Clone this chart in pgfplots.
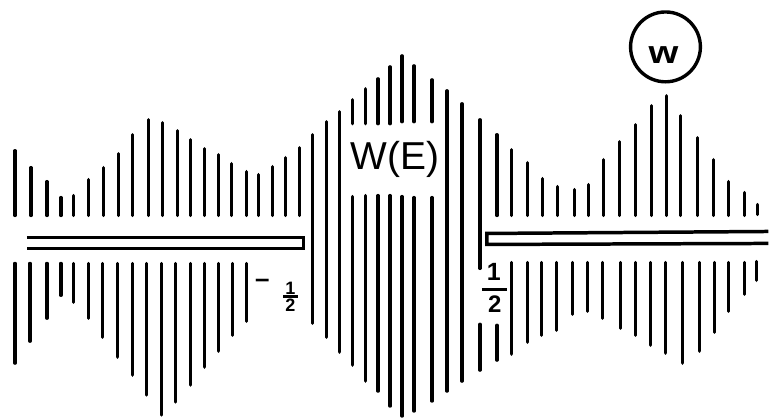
\documentclass[border=0pt]{standalone}
\usepackage{fontspec}
\setmainfont{Liberation Sans}
\usepackage{pgfplots}
\pgfplotsset{compat=1.18}
\begin{document}
\begin{tikzpicture}
\begin{axis}[scale only axis, width=770pt, height=419pt,
  xmin=0, xmax=770, ymin=0, ymax=419, y dir=reverse,
  hide axis, clip=false, unbounded coords=jump]
\path (rel axis cs:0,0) rectangle (rel axis cs:1,1);
% upper left comb
\addplot[black, line width=3.3pt, line cap=round] coordinates {
(15,151)(15,216)(15,nan) (31,168)(31,216)(31,nan) (47,182)(47,216)(47,nan)
(61,198)(61,216)(61,nan) (74,196)(74,216)(74,nan) (89,180)(89,216)(89,nan)
(104,168)(104,216)(104,nan) (119,154)(119,216)(119,nan) (133,135)(133,216)(133,nan)
(149,120)(149,216)(149,nan) (163,123)(163,216)(163,nan) (178,131)(178,216)(178,nan)
(191,140)(191,216)(191,nan) (205,149)(205,216)(205,nan) (219,155)(219,216)(219,nan)
(232,164)(232,216)(232,nan) (247,172)(247,216)(247,nan) (259,175)(259,216)(259,nan)
(273,167)(273,216)(273,nan) (286,158)(286,216)(286,nan) (300,148)(300,216)};
% lower left comb
\addplot[black, line width=3.3pt, line cap=round] coordinates {
(15,264)(15,364)(15,nan) (30,264)(30,342)(30,nan) (47,264)(47,319)(47,nan)
(61,264)(61,296)(61,nan) (74,264)(74,303)(74,nan) (89,264)(89,319)(89,nan)
(103,264)(103,338)(103,nan) (118,264)(118,358)(118,nan) (133,264)(133,376)(133,nan)
(147,264)(147,396)(147,nan) (162,264)(162,416)(162,nan) (176,264)(176,403)(176,nan)
(191,264)(191,386)(191,nan) (205,264)(205,368)(205,nan) (219,264)(219,352)(219,nan)
(233,264)(233,336)(233,nan) (247,264)(247,322)};
% central band W(E)
\addplot[black, line width=3.3pt, line cap=round] coordinates {
(313,135)(313,324)(313,nan) (327,122)(327,338)(327,nan) (340,112)(340,353)(340,nan)
(353,100)(353,124)(353,nan) (353,197)(353,366)(353,nan)
(366,89)(366,124)(366,nan) (366,196)(366,382)(366,nan)
(379,79)(379,124)(379,nan) (379,196)(379,392)(379,nan)
(391,67)(391,124)(391,nan) (391,196)(391,407)(391,nan)
(403,56)(403,122)(403,nan) (403,197)(403,417)(403,nan)
(415,66)(415,122)(415,nan) (415,198)(415,412)(415,nan)
(433,80)(433,122)(433,nan) (433,198)(433,402)(433,nan)
(448,91)(448,392)(448,nan) (463,104)(463,382)(463,nan)
(481,120)(481,269)(481,nan) (481,325)(481,371)(481,nan)
(498,135)(498,216)(498,nan) (498,326)(498,361)};
% upper right comb
\addplot[black, line width=3.3pt, line cap=round] coordinates {
(513,150)(513,216)(513,nan) (529,163)(529,216)(529,nan) (544,179)(544,216)(544,nan)
(559,187)(559,216)(559,nan) (576,190)(576,216)(576,nan) (590,185)(590,216)(590,nan)
(605,160)(605,216)(605,nan) (621,142)(621,216)(621,nan) (637,125)(637,216)(637,nan)
(653,106)(653,216)(653,nan) (668,96)(668,216)(668,nan) (682,116)(682,216)(682,nan)
(699,138)(699,216)(699,nan) (715,160)(715,216)(715,nan) (730,182)(730,216)(730,nan)
(746,193)(746,216)(746,nan) (759,205)(759,215)};
% lower right comb
\addplot[black, line width=3.3pt, line cap=round] coordinates {
(513,263)(513,355)(513,nan) (529,263)(529,343)(529,nan) (543,263)(543,336)(543,nan)
(558,263)(558,331)(558,nan) (574,263)(574,315)(574,nan) (589,263)(589,312)(589,nan)
(604,263)(604,319)(604,nan) (622,263)(622,329)(622,nan) (637,263)(637,336)(637,nan)
(652,263)(652,346)(652,nan) (667,263)(667,354)(667,nan) (684,263)(684,364)(684,nan)
(701,263)(701,352)(701,nan) (716,263)(716,333)(716,nan) (730,263)(730,312)(730,nan)
(746,263)(746,295)(746,nan) (758,262)(758,281)};
% cuts
\addplot[black, line width=3.5pt, line join=miter] coordinates {(27,238)(304,238)(304,249)(27,249)};
\addplot[black, line width=3.5pt, line join=miter] coordinates {(770,232)(488,234)(488,245)(770,244)};
% labels
\node[font=\fontsize{39}{41}\selectfont] at (axis cs:396,160) {W(E)};
\node[draw, circle, line width=3.4pt, minimum size=70pt, inner sep=0pt] at (axis cs:667,47) {};
\node[font=\bfseries\fontsize{32}{34}\selectfont, xscale=1.2] at (axis cs:665,55) {w};
\node[inner sep=0pt, font=\bfseries\fontsize{26}{28}\selectfont] at (axis cs:263,284) {–};
\node[inner sep=0pt, font=\bfseries\fontsize{18}{20}\selectfont] at (axis cs:291,288.5) {1};
\draw[line width=2.5pt] (axis cs:284,297) -- (axis cs:299,297);
\node[inner sep=0pt, font=\bfseries\fontsize{18}{20}\selectfont] at (axis cs:291,306) {2};
\node[inner sep=0pt, font=\bfseries\fontsize{25}{27}\selectfont] at (axis cs:495,273) {1};
\draw[line width=2.5pt] (axis cs:483,290) -- (axis cs:508,290);
\node[inner sep=0pt, font=\bfseries\fontsize{24}{26}\selectfont] at (axis cs:496,305) {2};
\end{axis}
\end{tikzpicture}
\end{document}
